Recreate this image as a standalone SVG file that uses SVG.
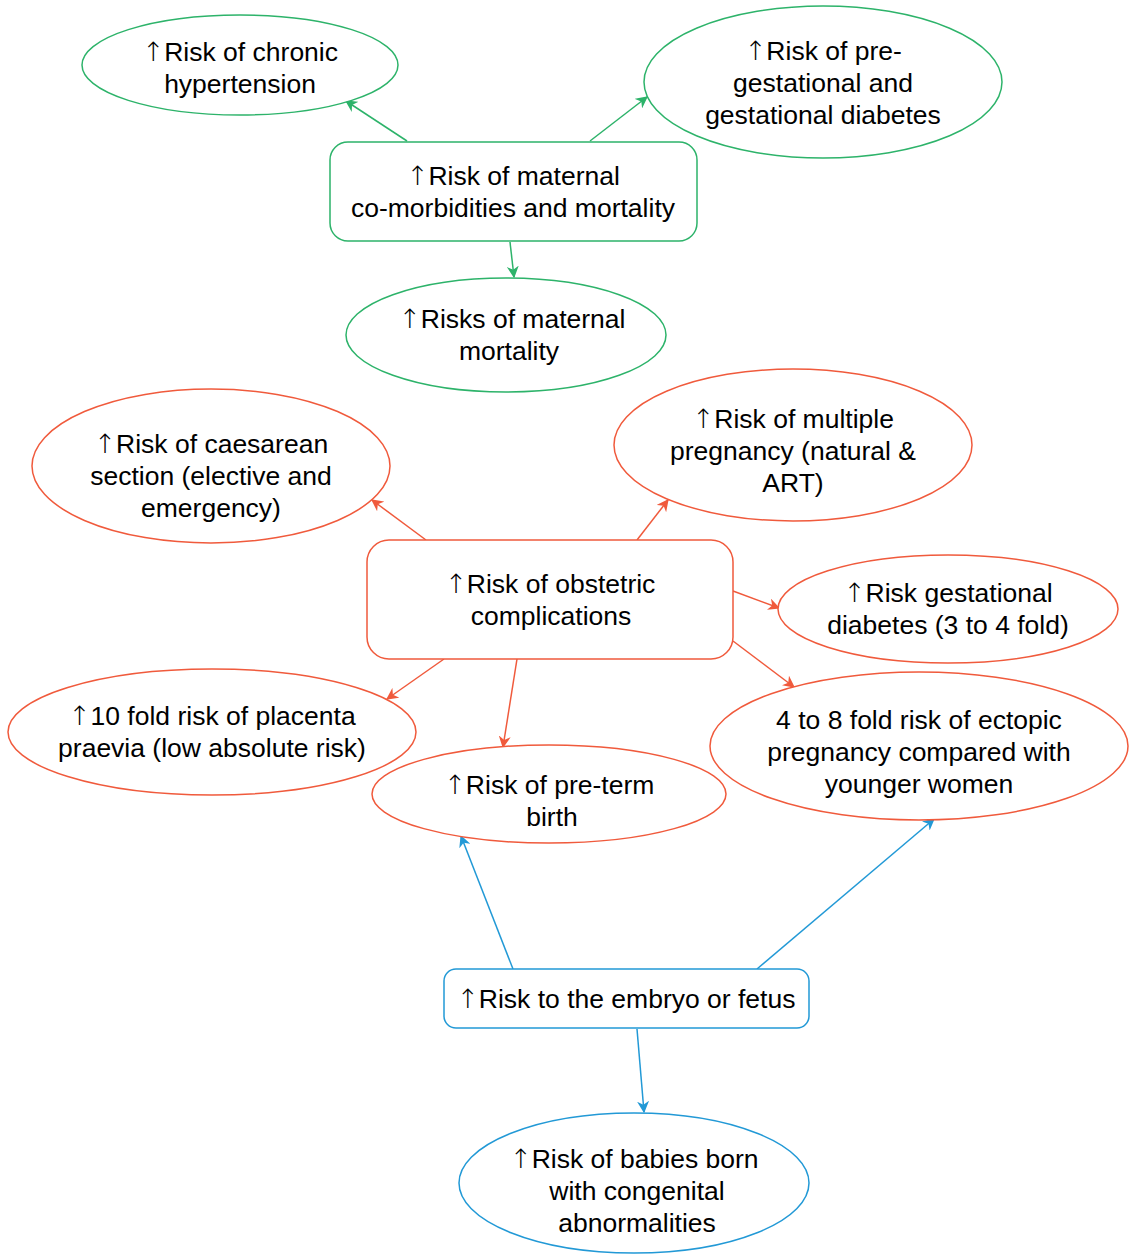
<svg xmlns="http://www.w3.org/2000/svg" width="1130" height="1254" viewBox="0 0 1130 1254">
  <style>
    .g { fill: #ffffff; stroke: #2db36a; stroke-width: 1.5; }
    .r { fill: #ffffff; stroke: #f05a3c; stroke-width: 1.5; }
    .b { fill: #ffffff; stroke: #2299d6; stroke-width: 1.5; }
    .lg { stroke: #2db36a; stroke-width: 1.5; fill: none; marker-end: url(#ag); }
    .lr { stroke: #f05a3c; stroke-width: 1.5; fill: none; marker-end: url(#ar); }
    .lb { stroke: #2299d6; stroke-width: 1.5; fill: none; marker-end: url(#ab); }
    text { font-family: "Liberation Sans", Arial, Helvetica, sans-serif; font-size: 26.5px; fill: #000000; text-anchor: middle; }
    .up { font-family: "DejaVu Sans", sans-serif; font-weight: 200; }
  </style>
  <defs>
    <marker id="ag" viewBox="0 0 10 10" refX="9" refY="5" markerWidth="12" markerHeight="12" markerUnits="userSpaceOnUse" orient="auto">
      <path d="M0,0 L10,5 L0,10 L3,5 z" fill="#2db36a"/>
    </marker>
    <marker id="ar" viewBox="0 0 10 10" refX="9" refY="5" markerWidth="12" markerHeight="12" markerUnits="userSpaceOnUse" orient="auto">
      <path d="M0,0 L10,5 L0,10 L3,5 z" fill="#f05a3c"/>
    </marker>
    <marker id="ab" viewBox="0 0 10 10" refX="9" refY="5" markerWidth="12" markerHeight="12" markerUnits="userSpaceOnUse" orient="auto">
      <path d="M0,0 L10,5 L0,10 L3,5 z" fill="#2299d6"/>
    </marker>
  </defs>

  <!-- connectors -->
  <g id="connectors">
    <line class="lg" x1="407" y1="141" x2="346" y2="101"/>
    <line class="lg" x1="590" y1="141" x2="647" y2="97"/>
    <line class="lg" x1="510" y1="242" x2="514" y2="277"/>

    <line class="lr" x1="426" y1="540" x2="372" y2="500"/>
    <line class="lr" x1="637" y1="540" x2="668" y2="500"/>
    <line class="lr" x1="733" y1="591" x2="779" y2="608"/>
    <line class="lr" x1="733" y1="641" x2="794" y2="687"/>
    <line class="lr" x1="444" y1="659" x2="387" y2="699"/>
    <line class="lr" x1="517" y1="659" x2="503" y2="747"/>

    <line class="lb" x1="513" y1="969" x2="461" y2="836"/>
    <line class="lb" x1="757" y1="969" x2="934" y2="819"/>
    <line class="lb" x1="637" y1="1029" x2="644" y2="1112"/>
  </g>

  <!-- maternal branch -->
  <g id="chronic-hypertension">
    <ellipse class="g" cx="240" cy="65" rx="158" ry="50"/>
    <text x="240" y="61"><tspan class="up">↑</tspan>Risk of chronic</text>
    <text x="240" y="93">hypertension</text>
  </g>
  <g id="diabetes-pre-gestational">
    <ellipse class="g" cx="823" cy="82" rx="179" ry="76"/>
    <text x="823" y="60"><tspan class="up">↑</tspan>Risk of pre-</text>
    <text x="823" y="92">gestational and</text>
    <text x="823" y="124">gestational diabetes</text>
  </g>
  <g id="maternal-comorbidities">
    <rect class="g" x="330" y="142" width="367" height="99" rx="18"/>
    <text x="513" y="185"><tspan class="up">↑</tspan>Risk of maternal</text>
    <text x="513" y="217">co-morbidities and mortality</text>
  </g>
  <g id="maternal-mortality">
    <ellipse class="g" cx="506" cy="335" rx="160" ry="57"/>
    <text x="512" y="328"><tspan class="up">↑</tspan>Risks of maternal</text>
    <text x="509" y="360">mortality</text>
  </g>

  <!-- obstetric branch -->
  <g id="caesarean-section">
    <ellipse class="r" cx="211" cy="466" rx="179" ry="77"/>
    <text x="211" y="453"><tspan class="up">↑</tspan>Risk of caesarean</text>
    <text x="211" y="485">section (elective and</text>
    <text x="211" y="517">emergency)</text>
  </g>
  <g id="multiple-pregnancy">
    <ellipse class="r" cx="793" cy="445" rx="179" ry="76"/>
    <text x="793" y="428"><tspan class="up">↑</tspan>Risk of multiple</text>
    <text x="793" y="460">pregnancy (natural &amp;</text>
    <text x="793" y="492">ART)</text>
  </g>
  <g id="obstetric-complications">
    <rect class="r" x="367" y="540" width="366" height="119" rx="22"/>
    <text x="550" y="593"><tspan class="up">↑</tspan>Risk of obstetric</text>
    <text x="551" y="625">complications</text>
  </g>
  <g id="gestational-diabetes">
    <ellipse class="r" cx="948" cy="609" rx="170" ry="54"/>
    <text x="948" y="602"><tspan class="up">↑</tspan>Risk gestational</text>
    <text x="948" y="634">diabetes (3 to 4 fold)</text>
  </g>
  <g id="placenta-praevia">
    <ellipse class="r" cx="212" cy="732" rx="204" ry="63"/>
    <text x="212" y="725"><tspan class="up">↑</tspan>10 fold risk of placenta</text>
    <text x="212" y="757">praevia (low absolute risk)</text>
  </g>
  <g id="pre-term-birth">
    <ellipse class="r" cx="549" cy="794" rx="177" ry="49"/>
    <text x="549" y="794"><tspan class="up">↑</tspan>Risk of pre-term</text>
    <text x="552" y="826">birth</text>
  </g>
  <g id="ectopic-pregnancy">
    <ellipse class="r" cx="919" cy="746" rx="209" ry="74"/>
    <text x="919" y="729">4 to 8 fold risk of ectopic</text>
    <text x="919" y="761">pregnancy compared with</text>
    <text x="919" y="793">younger women</text>
  </g>

  <!-- fetal branch -->
  <g id="embryo-fetus">
    <rect class="b" x="444" y="969" width="365" height="59" rx="12"/>
    <text x="626" y="1008"><tspan class="up">↑</tspan>Risk to the embryo or fetus</text>
  </g>
  <g id="congenital-abnormalities">
    <ellipse class="b" cx="634" cy="1183" rx="175" ry="70"/>
    <text x="634" y="1168"><tspan class="up">↑</tspan>Risk of babies born</text>
    <text x="637" y="1200">with congenital</text>
    <text x="637" y="1232">abnormalities</text>
  </g>
</svg>
